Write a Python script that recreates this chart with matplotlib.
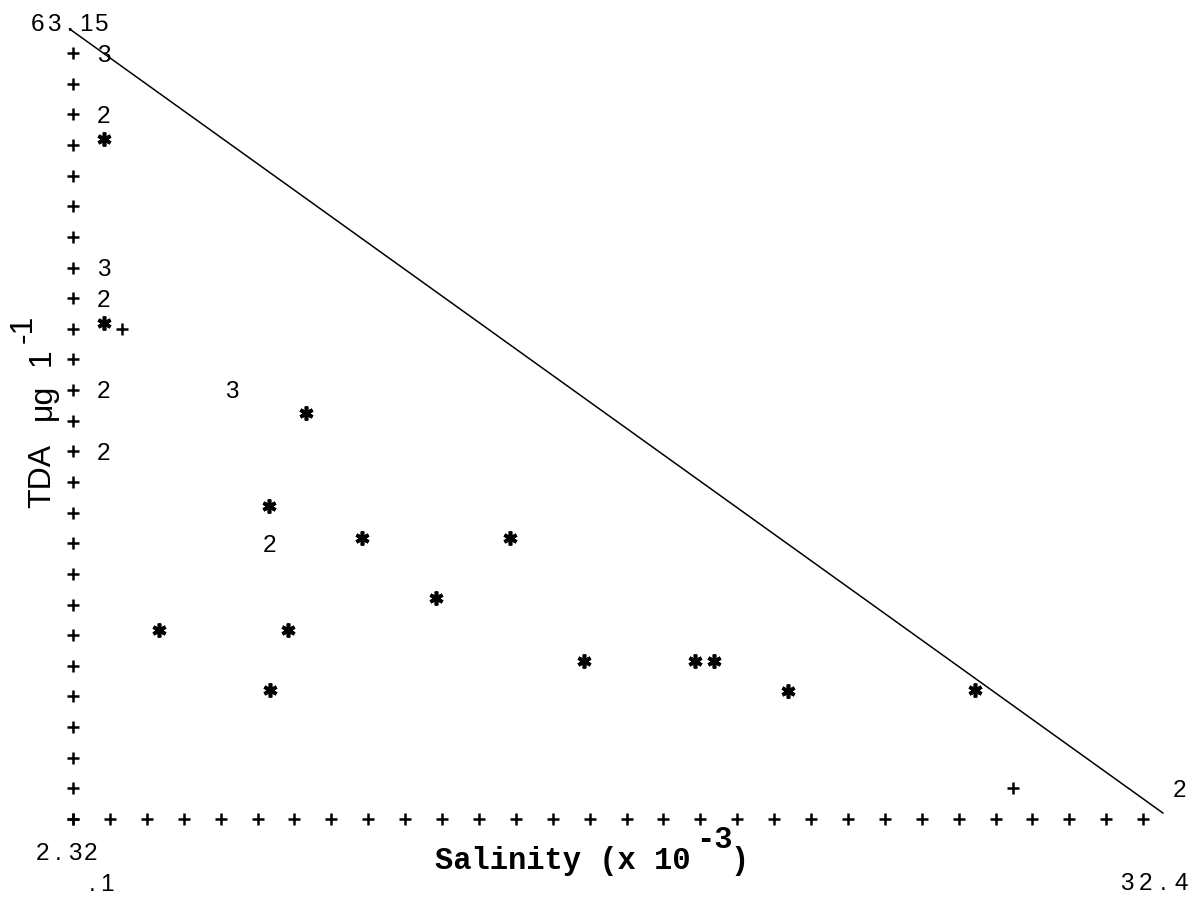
import numpy as np
import matplotlib
matplotlib.use("Agg")
import matplotlib.pyplot as plt
from matplotlib import transforms

# ---------------- data (Salinity x10^-3 , TDA ug l^-1) ----------------
x_min, x_max = 0.1, 32.4
y_min, y_max = 2.32, 63.15

# single observations, printed as '*'
star_x = [1.00, 1.00, 6.90, 5.82, 8.53, 12.85, 10.69, 2.61, 6.37,
          15.01, 18.25, 18.80, 5.85, 20.96, 26.42]
star_y = [54.25, 40.20, 33.32, 26.22, 23.78, 23.78, 19.20, 16.75, 16.75,
          14.39, 14.39, 14.39, 12.17, 12.09, 12.17]

# coincident observations, printed as their count
count_x = [1.00, 1.00, 1.00, 1.00, 1.00, 4.74, 1.00, 5.82, 32.40]
count_y = [60.81, 56.13, 44.43, 42.09, 35.08, 35.08, 30.40, 23.38, 4.66]
count_lab = ["3", "2", "3", "2", "2", "3", "2", "2", "2"]

# other plotted points, printed as '+'
plus_x = [1.53, 27.53]
plus_y = [39.75, 4.66]

# dilution line
line_x = [0.0, 31.90]
line_y = [62.65, 2.78]

# axis extreme labels
y_top_label, y_bot_label = "63.15", "2.32"
x_left_label, x_right_label = ".1", "32.4"

# ---------------- figure ----------------
W, H = 1200, 897
fig = plt.figure(figsize=(W / 100, H / 100), dpi=100)
fig.patch.set_facecolor("white")
ax = fig.add_axes([73 / W, (H - 819) / H, 1107 / W, (819 - 22.4) / H])
ax.set_xlim(x_min, x_max)
ax.set_ylim(y_min, y_max)
ax.axis("off")

# printer-style axes made of '+' characters
ytick = y_min + np.arange(26) * (y_max - y_min) / 26
xtick = x_min + np.arange(30) * (x_max - x_min) / 30
pk = dict(ls="none", marker="+", ms=9, mew=1.8, color="black", clip_on=False)
ax.plot(np.full_like(ytick, x_min), ytick, **pk)
ax.plot(xtick, np.full_like(xtick, y_min), **pk)

# line
ax.plot(line_x, line_y, color="black", lw=1.1, clip_on=False)

# data
ax.plot(plus_x, plus_y, **pk)
ax.plot(star_x, star_y, ls="none", marker=(6, 2, 0), ms=10, mew=2.6,
        color="black", clip_on=False)

digit_tr = transforms.offset_copy(ax.transData, fig=fig, x=0, y=-8.5, units="dots")
for x, y, s in zip(count_x, count_y, count_lab):
    ax.text(x, y, s, transform=digit_tr, ha="center", va="baseline",
            fontsize=17.5, family="Liberation Sans", color="black", clip_on=False)


def mono(s, x0, base, pitch, **kw):
    for i, ch in enumerate(s):
        if ch == " ":
            continue
        fig.text((x0 + i * pitch) / W, 1 - base / H, ch, ha="center",
                 va="baseline", **kw)


lab_kw = dict(fontsize=17.5, family="Liberation Sans", color="black")
mono(y_top_label, 38, 31, 16, **lab_kw)
mono(y_bot_label, 42, 860, 16.3, **lab_kw)
mono(x_left_label, 92, 891, 15, **lab_kw)
mono(x_right_label, 1127, 890, 18, **lab_kw)

# x-axis title in typewriter style
tw = dict(fontsize=22, family="Liberation Mono", fontweight="bold", color="black",
          ha="left", va="baseline")
fig.text(435 / W, 1 - 869 / H, "Salinity (x 10", **tw)
fig.text(696 / W, 1 - 848 / H, "-3", **tw)
fig.text(730 / W, 1 - 869 / H, ")", **tw)

# y-axis title (rotated)
yk = dict(fontsize=23, family="Liberation Sans", color="black", rotation=90,
          rotation_mode="anchor", ha="left", va="baseline")
fig.text(50 / W, 1 - 508 / H, "TDA", **yk)
fig.text(51 / W, 1 - 420 / H, "\u03bcg", **yk)
fig.text(50 / W, 1 - 366 / H, "1", **yk)
fig.text(32 / W, 1 - 343 / H, "-1", **yk)

fig.savefig("out.png", dpi=100, facecolor="white")
